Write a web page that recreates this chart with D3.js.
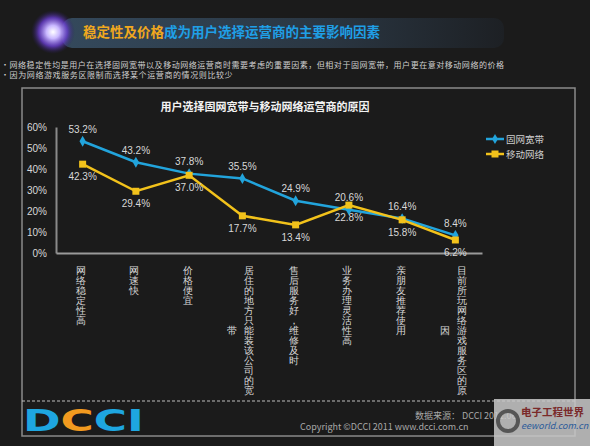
<!DOCTYPE html>
<html>
<head>
<meta charset="utf-8">
<script src="https://cdn.jsdelivr.net/npm/d3@7"></script>
<style>
  html, body { margin: 0; padding: 0; background: #1b1b1b; }
  svg { display: block; font-family: "Noto Sans CJK SC", "Noto Sans", sans-serif; }
</style>
</head>
<body>
<svg id="chart" width="590" height="446"></svg>
<script>
// data
const categories = [
  "网络稳定性高", "网速快", "价格便宜", "居住的地方只能装该公司的宽带",
  "售后服务好，维修及时", "业务办理灵活性高", "亲朋友推荐使用", "目前所玩网络游戏服务区的原因"
];
const broadband = [53.2, 43.2, 37.8, 35.5, 24.9, 20.6, 16.4, 8.4];
const mobile = [42.3, 29.4, 37.0, 17.7, 13.4, 22.8, 15.8, 6.2];
const yTicks = [0, 10, 20, 30, 40, 50, 60];
const seriesNames = ["固网宽带", "移动网络"];

const BLUE = "#22a4dc", GOLD = "#f2c21b";

const svg = d3.select("#chart");
const defs = svg.append("defs");

// ---- header ----
const bar = defs.append("linearGradient").attr("id", "bar");
bar.append("stop").attr("offset", "0%").attr("stop-color", "#34495c");
bar.append("stop").attr("offset", "60%").attr("stop-color", "#2a3642");
bar.append("stop").attr("offset", "100%").attr("stop-color", "#1d2024");
svg.append("rect").attr("x", 62).attr("y", 18).attr("width", 442).attr("height", 30)
  .attr("rx", 10).attr("fill", "url(#bar)");

const orb = defs.append("radialGradient").attr("id", "orb");
orb.append("stop").attr("offset", "0%").attr("stop-color", "#ffffff");
orb.append("stop").attr("offset", "30%").attr("stop-color", "#c9b8ff");
orb.append("stop").attr("offset", "65%").attr("stop-color", "#6a3fd0").attr("stop-opacity", 0.8);
orb.append("stop").attr("offset", "100%").attr("stop-color", "#2a1a60").attr("stop-opacity", 0);
svg.append("circle").attr("cx", 53).attr("cy", 32).attr("r", 22).attr("fill", "url(#orb)");

const head = svg.append("text").attr("x", 83).attr("y", 37)
  .attr("font-size", 13.5).attr("font-weight", "bold");
head.append("tspan").attr("fill", "#f0a81e").text("稳定性及价格");
head.append("tspan").attr("fill", "#1f9fe6").text("成为用户选择运营商的主要影响因素");

svg.append("text").attr("x", 1).attr("y", 68).attr("font-size", 8).attr("fill", "#cfcfcf")
  .attr("textLength", 503).attr("lengthAdjust", "spacing")
  .text("•网络稳定性均是用户在选择固网宽带以及移动网络运营商时需要考虑的重要因素，但相对于固网宽带，用户更在意对移动网络的价格");
svg.append("text").attr("x", 1).attr("y", 78).attr("font-size", 8).attr("fill", "#cfcfcf")
  .attr("letter-spacing", 0.6)
  .text("•因为网络游戏服务区限制而选择某个运营商的情况则比较少");

// ---- frame ----
svg.append("rect").attr("x", 22).attr("y", 88).attr("width", 553).attr("height", 348)
  .attr("fill", "none").attr("stroke", "#8a8a8a").attr("stroke-width", 1.5);
svg.append("line").attr("x1", 22).attr("x2", 575).attr("y1", 401).attr("y2", 401)
  .attr("stroke", "#bdbdbd").attr("stroke-width", 1.2).attr("stroke-dasharray", "3,2");

svg.append("text").attr("x", 265).attr("y", 111).attr("text-anchor", "middle")
  .attr("font-size", 11).attr("font-weight", "bold").attr("fill", "#f2f2f2")
  .text("用户选择固网宽带与移动网络运营商的原因");

// ---- scales ----
const x = d3.scaleBand().domain(categories).range([56, 482]);
const y = d3.scaleLinear().domain([0, 60]).range([253, 127]);
const cx = d => x(d) + x.bandwidth() / 2;

// y axis
const yAxis = svg.append("g").attr("transform", "translate(56,0)")
  .call(d3.axisLeft(y).tickValues(yTicks).tickSize(0).tickPadding(9).tickFormat(d => d + "%"));
yAxis.select(".domain").attr("stroke", "#8a8a8a").attr("stroke-width", 2);
yAxis.selectAll("text").attr("font-size", 10).attr("fill", "#d8d8d8")
  .attr("font-family", "'Liberation Sans', Arial, sans-serif");

// x axis with vertical, wrapped labels
const xAxis = svg.append("g").attr("transform", "translate(0,253)")
  .call(d3.axisBottom(x).tickSize(0).tickFormat(""));
xAxis.select(".domain").attr("stroke", "#9a9a9a").attr("stroke-width", 2);

const perCol = 13, charH = 10, colW = 17;
xAxis.selectAll(".tick").each(function(d) {
  const chars = Array.from(d);
  const cols = [];
  for (let i = 0; i < chars.length; i += perCol) cols.push(chars.slice(i, i + perCol));
  const blockH = cols[0].length * charH;
  const g = d3.select(this);
  cols.forEach((col, ci) => {
    // first column on the right, next ones to its left
    const colX = (cols.length - 1) / 2 * colW - ci * colW - 1.5;
    const top = 17 + (blockH - col.length * charH) / 2;
    col.forEach((ch, j) => {
      g.append("text").attr("x", colX).attr("y", top + j * charH)
        .attr("text-anchor", "middle").attr("dominant-baseline", "central")
        .attr("font-size", 10).attr("fill", "#d8d8d8").text(ch);
    });
  });
});

// ---- lines ----
const line = d3.line().x((v, i) => cx(categories[i])).y(v => y(v));

svg.append("path").datum(broadband).attr("d", line)
  .attr("fill", "none").attr("stroke", BLUE).attr("stroke-width", 2.5);
svg.append("path").datum(mobile).attr("d", line)
  .attr("fill", "none").attr("stroke", GOLD).attr("stroke-width", 2.5);

svg.selectAll(".m-blue").data(broadband).join("path").attr("class", "m-blue")
  .attr("d", d3.symbol(d3.symbolDiamond, 34))
  .attr("transform", (v, i) => `translate(${cx(categories[i])},${y(v)})`)
  .attr("fill", BLUE);
svg.selectAll(".m-gold").data(mobile).join("rect").attr("class", "m-gold")
  .attr("x", (v, i) => cx(categories[i]) - 3.5).attr("y", v => y(v) - 3.5)
  .attr("width", 7).attr("height", 7).attr("fill", GOLD);

// data labels
const lblFont = "'Liberation Sans', Arial, sans-serif";
svg.selectAll(".l-blue").data(broadband).join("text").attr("class", "l-blue")
  .attr("x", (v, i) => cx(categories[i])).attr("y", v => y(v) - 8.5)
  .attr("text-anchor", "middle").attr("font-size", 10).attr("fill", "#d8d8d8")
  .attr("font-family", lblFont).text(v => v.toFixed(1) + "%");
svg.selectAll(".l-gold").data(mobile).join("text").attr("class", "l-gold")
  .attr("x", (v, i) => cx(categories[i])).attr("y", v => y(v) + 16)
  .attr("text-anchor", "middle").attr("font-size", 10).attr("fill", "#d8d8d8")
  .attr("font-family", lblFont).text(v => v.toFixed(1) + "%");

// ---- legend ----
const legend = svg.append("g").attr("transform", "translate(486,139)");
[BLUE, GOLD].forEach((c, i) => {
  const row = legend.append("g").attr("transform", `translate(0,${i * 15})`);
  row.append("line").attr("x1", 0).attr("x2", 18).attr("stroke", c).attr("stroke-width", 2.5);
  if (i === 0) {
    row.append("path").attr("d", d3.symbol(d3.symbolDiamond, 30)).attr("transform", "translate(9,0)").attr("fill", c);
  } else {
    row.append("rect").attr("x", 5.5).attr("y", -3.5).attr("width", 7).attr("height", 7).attr("fill", c);
  }
  row.append("text").attr("x", 20).attr("y", 0).attr("dominant-baseline", "central")
    .attr("font-size", 9.5).attr("fill", "#d0d0d0").text(seriesNames[i]);
});

// ---- footer ----
const logo = svg.append("text").attr("x", 23).attr("y", 431)
  .attr("font-size", 31).attr("font-weight", "bold")
  .attr("font-family", "'DejaVu Sans', sans-serif")
  .attr("textLength", 121).attr("lengthAdjust", "spacingAndGlyphs");
logo.append("tspan").attr("fill", "#1ea6e0").text("D");
logo.append("tspan").attr("fill", "#f29a1f").text("C");
logo.append("tspan").attr("fill", "#1ea6e0").text("CI");

svg.append("text").attr("x", 415).attr("y", 419).attr("font-size", 9).attr("fill", "#a8a8a8")
  .text("数据来源： DCCI 2011.06");
svg.append("text").attr("x", 300).attr("y", 430).attr("font-size", 9).attr("fill", "#a8a8a8")
  .text("Copyright ©DCCI 2011 www.dcci.com.cn");

// watermark
const wm = svg.append("g").attr("transform", "translate(494,399)");
wm.append("rect").attr("width", 96).attr("height", 47).attr("fill", "#c9c9c9").attr("opacity", 0.85);
wm.append("text").attr("x", 27).attr("y", 17).attr("font-size", 10.5).attr("font-weight", "bold")
  .attr("fill", "#7a2a2a").text("电子工程世界");
wm.append("text").attr("x", 27).attr("y", 30).attr("font-size", 9).attr("font-style", "italic")
  .attr("fill", "#2a5a9a").text("eeworld.com.cn");
wm.append("circle").attr("cx", 14).attr("cy", 22).attr("r", 10)
  .attr("fill", "none").attr("stroke", "#555").attr("stroke-width", 4);
</script>
</body>
</html>
